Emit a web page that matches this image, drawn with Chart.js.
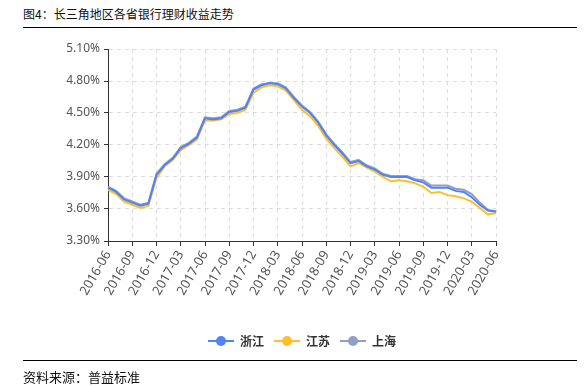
<!DOCTYPE html>
<html>
<head>
<meta charset="utf-8">
<script src="https://cdn.jsdelivr.net/npm/chart.js@4"></script>
<style>
  body { margin: 0; background: #fff; }
  #wrap { position: relative; width: 588px; height: 387px; overflow: hidden; }
  #chart { position: absolute; left: 0; top: 0; }
  .title { position: absolute; left: 23px; top: 5px; font: 12px "Noto Sans CJK SC"; color: #111; }
  .rule { position: absolute; left: 23px; width: 554px; height: 0; border-top: 1.5px solid #000; }
  .source { position: absolute; left: 23px; top: 367px; font: 13px "Noto Sans CJK SC"; color: #111; }
</style>
</head>
<body>
<div id="wrap">
  <div class="title">图4：长三角地区各省银行理财收益走势</div>
  <div class="rule" style="top:27px"></div>
  <canvas id="chart" width="588" height="387"></canvas>
  <div class="rule" style="top:360px"></div>
  <div class="source">资料来源：普益标准</div>
</div>
<script>
const months = [
  '2016-06','2016-07','2016-08','2016-09','2016-10','2016-11','2016-12',
  '2017-01','2017-02','2017-03','2017-04','2017-05','2017-06','2017-07','2017-08','2017-09','2017-10','2017-11','2017-12',
  '2018-01','2018-02','2018-03','2018-04','2018-05','2018-06','2018-07','2018-08','2018-09','2018-10','2018-11','2018-12',
  '2019-01','2019-02','2019-03','2019-04','2019-05','2019-06','2019-07','2019-08','2019-09','2019-10','2019-11','2019-12',
  '2020-01','2020-02','2020-03','2020-04','2020-05','2020-06'
];
const zhejiang = [3.80,3.76,3.69,3.66,3.63,3.65,3.92,4.01,4.07,4.17,4.21,4.27,4.45,4.44,4.45,4.51,4.52,4.55,4.72,
  4.76,4.78,4.77,4.73,4.64,4.56,4.50,4.41,4.29,4.20,4.12,4.03,4.05,4.00,3.97,3.92,3.90,3.90,3.90,3.87,3.85,3.80,3.80,3.80,
  3.77,3.76,3.71,3.64,3.585,3.575];
const jiangsu = [3.78,3.74,3.67,3.64,3.61,3.63,3.89,4.00,4.06,4.15,4.20,4.25,4.43,4.43,4.44,4.49,4.50,4.53,4.69,
  4.74,4.76,4.75,4.71,4.62,4.53,4.47,4.38,4.26,4.17,4.09,4.00,4.03,3.99,3.95,3.90,3.86,3.87,3.86,3.84,3.81,3.75,3.76,3.73,
  3.72,3.70,3.67,3.61,3.55,3.56];
const shanghai = [3.81,3.77,3.70,3.67,3.64,3.66,3.93,4.02,4.08,4.18,4.22,4.28,4.46,4.45,4.46,4.52,4.53,4.56,4.73,
  4.77,4.78,4.78,4.74,4.65,4.57,4.51,4.42,4.30,4.21,4.13,4.04,4.06,4.01,3.98,3.93,3.91,3.91,3.91,3.88,3.87,3.82,3.82,3.82,
  3.79,3.78,3.74,3.66,3.59,3.58];
const seriesNames = ['浙江', '江苏', '上海'];
const seriesColors = ['#5083f5', '#ffbf2a', '#919fc3'];

// legend icon: short line with a dot in the middle
function legendIcon(color) {
  const c = document.createElement('canvas');
  c.width = 26; c.height = 12;
  const g = c.getContext('2d');
  g.strokeStyle = color;
  g.lineWidth = 2;
  g.beginPath(); g.moveTo(0, 6); g.lineTo(26, 6); g.stroke();
  g.fillStyle = color;
  g.beginPath(); g.arc(13, 6, 5, 0, Math.PI * 2); g.fill();
  return c;
}

const allSeries = [zhejiang, jiangsu, shanghai];
const datasets = allSeries.map((vals, i) => ({
  label: seriesNames[i],
  data: vals,
  borderColor: seriesColors[i],
  backgroundColor: seriesColors[i],
  borderWidth: 2,
  pointRadius: 0,
  pointStyle: legendIcon(seriesColors[i]),
  tension: 0
}));

const ctx = document.getElementById('chart');
const chart = new Chart(ctx, {
  type: 'line',
  data: { labels: months, datasets: datasets },
  options: {
    responsive: false,
    animation: false,
    layout: { padding: { left: 0, right: 92, top: 49, bottom: 30 } },
    plugins: {
      tooltip: { enabled: false },
      legend: {
        position: 'bottom',
        fullSize: false,
        labels: {
          usePointStyle: true,
          pointStyleWidth: 26,
          padding: 10,
          color: '#333',
          font: { family: '"Noto Sans CJK SC"', size: 12, weight: 'bold' }
        }
      }
    },
    scales: {
      x: {
        offset: false,
        afterFit: (s) => { s.height = 84; },
        grid: {
          color: (c) => c.index % 3 === 0 ? '#dcdcdc' : 'rgba(0,0,0,0)',
          tickColor: (c) => c.index % 3 === 0 ? '#333' : 'rgba(0,0,0,0)',
          tickLength: 5,
          tickBorderDash: []
        },
        border: { display: true, color: '#333', width: 1, dash: [4, 4] },
        ticks: {
          autoSkip: false,
          maxRotation: 60,
          minRotation: 60,
          padding: 2,
          color: '#555',
          font: { family: '"Noto Sans"', size: 13 },
          callback: function (v, i) { return i % 3 === 0 ? months[i] : ''; }
        }
      },
      y: {
        min: 3.3,
        max: 5.1,
        afterFit: (s) => { s.width = 108; },
        grid: { color: '#dcdcdc', tickColor: '#333', tickLength: 4, tickBorderDash: [] },
        border: { display: true, color: '#333', width: 1, dash: [4, 4] },
        ticks: {
          stepSize: 0.3,
          padding: 4,
          color: '#555',
          font: { family: '"Noto Sans"', size: 12 },
          callback: (v) => v.toFixed(2) + '%'
        }
      }
    }
  }
});
</script>
</body>
</html>
